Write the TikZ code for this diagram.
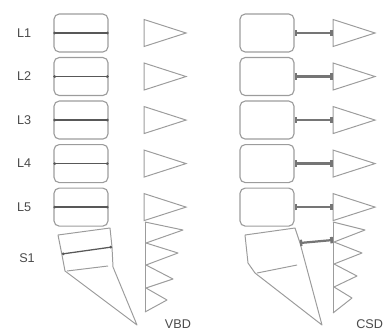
\documentclass[tikz,border=0pt]{standalone}
\usepackage{fontspec}
\setsansfont{Liberation Sans}
\usetikzlibrary{arrows.meta,positioning,shapes.geometric}
\definecolor{spinegray}{HTML}{9C9C9C}
\definecolor{spinedark}{HTML}{3A3A3A}
\definecolor{spinetext}{HTML}{4A4A4A}
\tikzset{
  vertbox/.style={
    rectangle,
    rounded corners=1.3mm,
    draw=spinegray,
    line width=0.8pt,
    minimum width=13.5mm,
    minimum height=9.5mm,
    inner sep=0pt
  },
  loadtri/.style={
    isosceles triangle,
    isosceles triangle stretches,
    draw=spinegray,
    line width=0.7pt,
    minimum width=6.75mm,
    minimum height=10.5mm,
    inner sep=0pt,
    anchor=west
  },
  endplate/.style={{Circle[length=1.8pt]}-{Circle[length=1.8pt]}, line width=0.9pt, draw=spinedark!85},
  shearload/.style={{Bar[width=4.5pt,line width=1.6pt]}-{Bar[width=4.5pt,line width=2pt]}, line width=1.6pt, draw=spinedark!70},
  levellabel/.style={font=\sffamily\fontsize{9}{10}\selectfont, text=spinetext, inner sep=0pt},
  sacrumline/.style={draw=spinegray, line width=0.7pt, line join=round}
}
\begin{document}
\begin{tikzpicture}[x=0.25mm, y=-0.25mm, node distance=1.1mm and 8.75mm]
\useasboundingbox (0,0) rectangle (384,333);

% vertebral bodies, left column
\node[vertbox] (v1) at (81,33) {};
\node[vertbox, below=of v1] (v2) {};
\node[vertbox, below=of v2] (v3) {};
\node[vertbox, below=of v3] (v4) {};
\node[vertbox, below=of v4] (v5) {};
\node[loadtri, right=of v1.east] (tv1) {};
\node[loadtri, right=of v2.east] (tv2) {};
\node[loadtri, right=of v3.east] (tv3) {};
\node[loadtri, right=of v4.east] (tv4) {};
\node[loadtri, right=of v5.east] (tv5) {};
\draw[endplate] (v1.west) -- (v1.east);
\draw[endplate] (v2.west) -- (v2.east);
\draw[endplate] (v3.west) -- (v3.east);
\draw[endplate] (v4.west) -- (v4.east);
\draw[endplate] (v5.west) -- (v5.east);

\node[levellabel, left=5.5mm of v1] (l1) {L1};
\node[levellabel, left=5.5mm of v2] (l2) {L2};
\node[levellabel, left=5.5mm of v3] (l3) {L3};
\node[levellabel, left=5.5mm of v4] (l4) {L4};
\node[levellabel, left=5.5mm of v5] (l5) {L5};
\node[levellabel] (s1) at (27,258) {S1};

% sacrum, left column
\draw[sacrumline] (58,235) -- (110,228) -- (112,247) -- (113,267) -- (137,325)
  -- (65,271) -- (62,255) -- cycle;
\draw[endplate] (62,254) -- (112,247);
\draw[sacrumline] (67,271) -- (108,266);
\draw[sacrumline] (145,222) -- (145,312);
\draw[sacrumline] (145,222) -- (183,230) -- (146,243) -- (178,253) -- (146,265)
  -- (173,279) -- (146,288) -- (167,300) -- (145,312);

% vertebral bodies, right column
\node[vertbox] (c1) at (267,33) {};
\node[vertbox, below=of c1] (c2) {};
\node[vertbox, below=of c2] (c3) {};
\node[vertbox, below=of c3] (c4) {};
\node[vertbox, below=of c4] (c5) {};
\node[loadtri, right=9.5mm of c1.east] (tc1) {};
\node[loadtri, right=9.5mm of c2.east] (tc2) {};
\node[loadtri, right=9.5mm of c3.east] (tc3) {};
\node[loadtri, right=9.5mm of c4.east] (tc4) {};
\node[loadtri, right=9.5mm of c5.east] (tc5) {};
\draw[shearload] (c1.east) -- (tc1.west);
\draw[shearload] (c2.east) -- (tc2.west);
\draw[shearload] (c3.east) -- (tc3.west);
\draw[shearload] (c4.east) -- (tc4.west);
\draw[shearload] (c5.east) -- (tc5.west);

% sacrum, right column
\coordinate (cs) at (300,243);
\coordinate (ct) at (333,240);
\draw[sacrumline] (245,235) -- (295,228) -- (cs) -- (322,325) -- (255,273)
  -- (248,263) -- cycle;
\draw[sacrumline] (257,273) -- (297,265);
\draw[sacrumline] (333,222) -- (333,313);
\draw[sacrumline] (333,222) -- (365,230) -- (334,242) -- (362,253) -- (334,264)
  -- (357,276) -- (334,287) -- (352,298) -- (333,313);
\draw[shearload] (cs) -- (ct);

\node[levellabel] (vbd) at (178,324) {VBD};
\node[levellabel, anchor=west] (csd) at (356,324) {CSD};
\end{tikzpicture}
\end{document}
